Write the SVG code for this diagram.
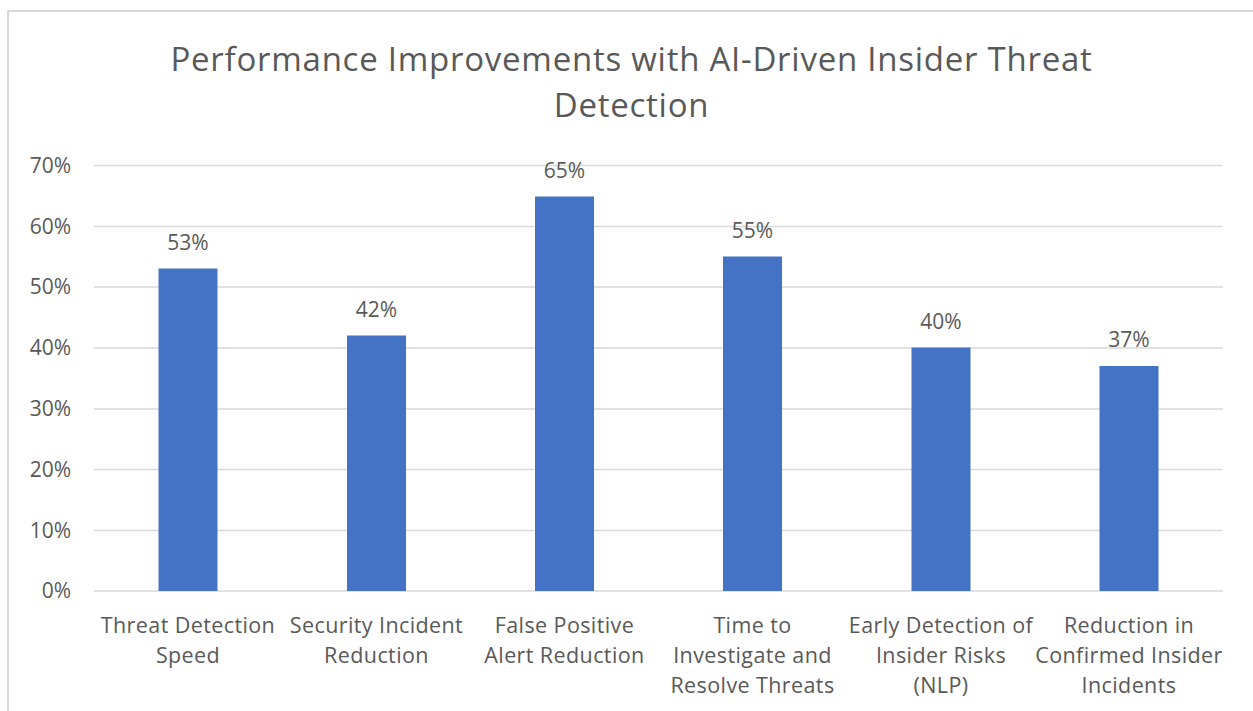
<svg xmlns="http://www.w3.org/2000/svg" width="1253" height="711" viewBox="0 0 1253 711">
<style>
text{font-family:"Open Sans","Liberation Sans",sans-serif;fill:#595959}
.t{font-size:33px;letter-spacing:0.75px}
.y{font-size:21px;text-anchor:end}
.c{font-size:21.5px;text-anchor:middle;letter-spacing:0.4px}
.d{font-size:21px;text-anchor:middle}
.g{stroke:#d9d9d9;stroke-width:1.5}
.b{fill:#4472c4}
</style>
<rect x="0" y="0" width="1253" height="711" fill="#fff"/>
<rect x="8" y="11" width="1260" height="720" fill="#fff" stroke="#d9d9d9" stroke-width="2"/>
<g id="title">
<text class="t" x="631.5" y="71" text-anchor="middle">Performance Improvements with AI-Driven Insider Threat</text>
<text class="t" x="631.5" y="117" text-anchor="middle">Detection</text>
</g>
<g id="gridlines">
<line class="g" x1="94" y1="165.5" x2="1223" y2="165.5"/>
<line class="g" x1="94" y1="226.5" x2="1223" y2="226.5"/>
<line class="g" x1="94" y1="287" x2="1223" y2="287"/>
<line class="g" x1="94" y1="348" x2="1223" y2="348"/>
<line class="g" x1="94" y1="409" x2="1223" y2="409"/>
<line class="g" x1="94" y1="469.5" x2="1223" y2="469.5"/>
<line class="g" x1="94" y1="530.5" x2="1223" y2="530.5"/>
<line class="g" x1="94" y1="591" x2="1223" y2="591"/>
</g>
<g id="yaxis">
<text class="y" x="71" y="173">70%</text>
<text class="y" x="71" y="234">60%</text>
<text class="y" x="71" y="294">50%</text>
<text class="y" x="71" y="355">40%</text>
<text class="y" x="71" y="416">30%</text>
<text class="y" x="71" y="477">20%</text>
<text class="y" x="71" y="538">10%</text>
<text class="y" x="71" y="598">0%</text>
</g>
<g id="bar1"><rect class="b" x="158.5" y="268.5" width="59" height="322.5"/><text class="d" x="188" y="250">53%</text>
<text class="c" x="188" y="633">Threat Detection</text><text class="c" x="188" y="663">Speed</text></g>
<g id="bar2"><rect class="b" x="347" y="335.5" width="59" height="255.5"/><text class="d" x="376.5" y="317">42%</text>
<text class="c" x="376.5" y="633">Security Incident</text><text class="c" x="376.5" y="663">Reduction</text></g>
<g id="bar3"><rect class="b" x="535" y="196.5" width="59" height="394.5"/><text class="d" x="564.5" y="178">65%</text>
<text class="c" x="564.5" y="633">False Positive</text><text class="c" x="564.5" y="663">Alert Reduction</text></g>
<g id="bar4"><rect class="b" x="723" y="256.5" width="59" height="334.5"/><text class="d" x="752.5" y="238">55%</text>
<text class="c" x="752.5" y="633">Time to</text><text class="c" x="752.5" y="663">Investigate and</text><text class="c" x="752.5" y="693">Resolve Threats</text></g>
<g id="bar5"><rect class="b" x="911.5" y="347.5" width="59" height="243.5"/><text class="d" x="941" y="329">40%</text>
<text class="c" x="941" y="633">Early Detection of</text><text class="c" x="941" y="663">Insider Risks</text><text class="c" x="941" y="693">(NLP)</text></g>
<g id="bar6"><rect class="b" x="1099.5" y="366" width="59" height="225"/><text class="d" x="1129" y="347">37%</text>
<text class="c" x="1129" y="633">Reduction in</text><text class="c" x="1129" y="663">Confirmed Insider</text><text class="c" x="1129" y="693">Incidents</text></g>
</svg>
